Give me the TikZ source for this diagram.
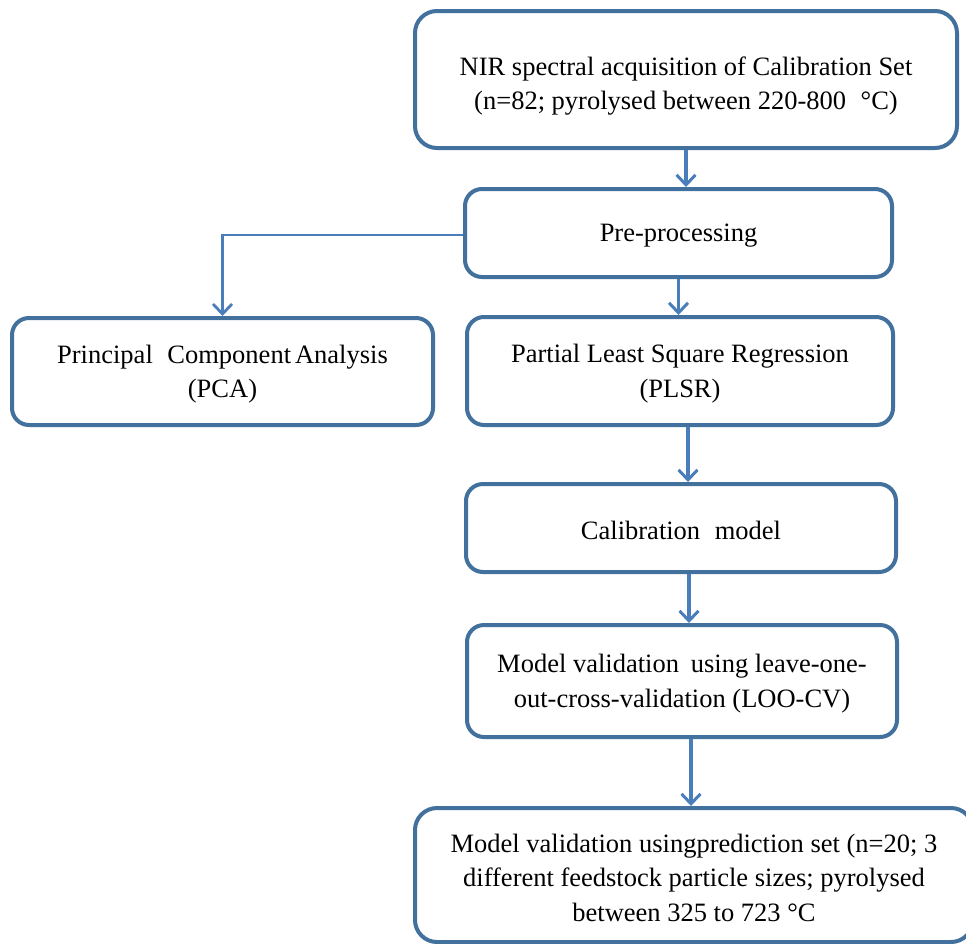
\documentclass[tikz,border=0pt]{standalone}
\usepackage{fontspec}
\setmainfont{Liberation Serif}
\usetikzlibrary{arrows.meta}
\definecolor{boxblue}{RGB}{65,113,156}
\definecolor{arrowblue}{RGB}{74,126,187}
\tikzset{
  flowbox/.style={draw=boxblue, line width=4pt, rounded corners=17pt, fill=white,
    align=center, inner sep=0pt, font=\fontsize{26.5}{34.5}\selectfont},
  flowarrow/.style={draw=arrowblue, line width=3.3pt,
    -{Straight Barb[length=10pt,width=19pt,line width=3pt]}},
  sidearrow/.style={draw=arrowblue, line width=2.4pt,
    -{Straight Barb[length=10pt,width=19pt,line width=2.8pt]}}
}
\begin{document}
\begin{tikzpicture}[x=1pt,y=1pt]
\useasboundingbox (0,0) rectangle (966,-943);
\clip (0,0) rectangle (966,-943);
\fill[white] (0,0) rectangle (966,-943);
\node[flowbox, minimum width=542pt, minimum height=137pt, rounded corners=22pt] (top) at (686,-79.5)
  {\rule{0pt}{32pt}NIR spectral acquisition of Calibration Set\\(n=82; pyrolysed between 220-800\hspace{0.55em}°C)};
\node[flowbox, minimum width=427pt, minimum height=88pt] (pre) at (678.5,-233) {\rule{0pt}{22pt}Pre-processing};
\node[flowbox, minimum width=421pt, minimum height=107pt] (pca) at (222.5,-371.5)
  {\rule{0pt}{24pt}Principal\hspace{0.3em} Component\hspace{-0.1em} Analysis\\(PCA)};
\node[flowbox, minimum width=426pt, minimum height=108pt] (plsr) at (680,-371)
  {\rule{0pt}{24pt}Partial Least Square Regression\\(PLSR)};
\node[flowbox, minimum width=430pt, minimum height=88pt] (cal) at (681,-528) {\rule{0pt}{24pt}Calibration\hspace{0.3em} model};
\node[flowbox, minimum width=430pt, minimum height=112pt] (loo) at (682,-681)
  {\rule{0pt}{24pt}Model validation\hspace{0.2em} using leave-one-\\out-cross-validation (LOO-CV)};
\node[flowbox, minimum width=558pt, minimum height=134pt, rounded corners=22pt] (bot) at (694,-875)
  {\rule{0pt}{24pt}Model validation usingprediction set (n=20; 3\\different feedstock particle sizes; pyrolysed\\between 325 to 723 °C};
\draw[flowarrow] (top.south) -- (top.south |- pre.north);
\draw[flowarrow] (pre.south) -- (pre.south |- plsr.north);
\draw[flowarrow] ([xshift=8pt]plsr.south) -- ([xshift=8pt]plsr.south |- cal.north);
\draw[flowarrow] ([xshift=8pt]cal.south) -- ([xshift=8pt]cal.south |- loo.north);
\draw[flowarrow] ([xshift=9pt]loo.south) -- ([xshift=9pt]loo.south |- bot.north);
\draw[sidearrow] ([yshift=-2pt]pre.west) -| (pca.north);
\end{tikzpicture}
\end{document}
